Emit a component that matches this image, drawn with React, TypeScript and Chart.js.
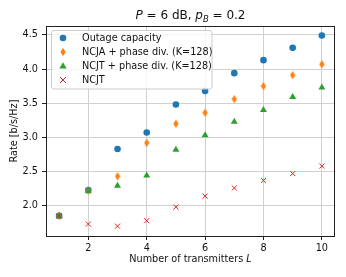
import React, { useEffect, useRef } from "react";
import { Chart, registerables } from "chart.js";

Chart.register(...registerables);

const transmitters = [1, 2, 3, 4, 5, 6, 7, 8, 9, 10];
const outageCapacity = [1.85, 2.23, 2.83, 3.07, 3.48, 3.68, 3.94, 4.13, 4.31, 4.49];
const ncjaPhase = [1.85, 2.22, 2.43, 2.92, 3.2, 3.36, 3.56, 3.75, 3.91, 4.07];
const ncjtPhase = [1.85, 2.21, 2.29, 2.44, 2.82, 3.03, 3.23, 3.4, 3.59, 3.73];
const ncjt = [1.85, 1.73, 1.7, 1.78, 1.98, 2.14, 2.26, 2.37, 2.47, 2.58];

const seriesLabels = [
  "Outage capacity",
  "NCJA + phase div. (K=128)",
  "NCJT + phase div. (K=128)",
  "NCJT",
];
const xTicks = [2, 4, 6, 8, 10];
const yTicks = [2.0, 2.5, 3.0, 3.5, 4.0, 4.5];

const BLUE = "#1f77b4";
const ORANGE = "#ff7f0e";
const GREEN = "#2ca02c";
const RED = "#d62728";
const FONT = "DejaVu Sans";

function makeThinDiamond(color: string): HTMLCanvasElement {
  const c = document.createElement("canvas");
  c.width = 6;
  c.height = 9;
  const ctx = c.getContext("2d")!;
  ctx.fillStyle = color;
  ctx.beginPath();
  ctx.moveTo(3, 0.3);
  ctx.lineTo(5.6, 4.5);
  ctx.lineTo(3, 8.7);
  ctx.lineTo(0.4, 4.5);
  ctx.closePath();
  ctx.fill();
  return c;
}

type Seg = { t: string; italic?: boolean; sub?: boolean };

function drawMixed(ctx: CanvasRenderingContext2D, segs: Seg[], cx: number, cy: number, size: number) {
  const fontFor = (s: Seg) =>
    `${s.italic ? "italic " : ""}${s.sub ? size * 0.7 : size}px "${FONT}"`;
  let total = 0;
  const widths = segs.map((s) => {
    ctx.font = fontFor(s);
    const w = ctx.measureText(s.t).width;
    total += w;
    return w;
  });
  let x = cx - total / 2;
  ctx.textBaseline = "alphabetic";
  ctx.textAlign = "left";
  const base = cy + size * 0.36;
  segs.forEach((s, i) => {
    ctx.font = fontFor(s);
    ctx.fillText(s.t, x, s.sub ? base + size * 0.2 : base);
    x += widths[i];
  });
}

const decorPlugin = {
  id: "decor",
  afterDatasetsDraw(chart: any) {
    const ctx: CanvasRenderingContext2D = chart.ctx;
    const a = chart.chartArea;
    ctx.save();
    // frame
    ctx.strokeStyle = "#222";
    ctx.lineWidth = 1;
    ctx.strokeRect(Math.round(a.left) + 0.5, Math.round(a.top) + 0.5, Math.round(a.right - a.left) - 1, Math.round(a.bottom - a.top));
    ctx.fillStyle = "#111";
    // title
    drawMixed(
      ctx,
      [
        { t: "P", italic: true },
        { t: " = 6 dB, " },
        { t: "p", italic: true },
        { t: "B", italic: true, sub: true },
        { t: " = 0.2" },
      ],
      (a.left + a.right) / 2,
      15,
      12
    );
    // x title
    drawMixed(
      ctx,
      [{ t: "Number of transmitters " }, { t: "L", italic: true }],
      (a.left + a.right) / 2,
      259,
      9.7
    );
    // y title
    ctx.save();
    ctx.translate(14, (a.top + a.bottom) / 2);
    ctx.rotate(-Math.PI / 2);
    ctx.font = `9.7px "${FONT}"`;
    ctx.textAlign = "center";
    ctx.textBaseline = "middle";
    ctx.fillText("Rate [b/s/Hz]", 0, 0);
    ctx.restore();

    // legend
    const lx = 51.5, ly = 30.5, lw = 160.5, lh = 58.5, r = 2.5;
    ctx.beginPath();
    ctx.moveTo(lx + r, ly);
    ctx.lineTo(lx + lw - r, ly);
    ctx.quadraticCurveTo(lx + lw, ly, lx + lw, ly + r);
    ctx.lineTo(lx + lw, ly + lh - r);
    ctx.quadraticCurveTo(lx + lw, ly + lh, lx + lw - r, ly + lh);
    ctx.lineTo(lx + r, ly + lh);
    ctx.quadraticCurveTo(lx, ly + lh, lx, ly + lh - r);
    ctx.lineTo(lx, ly + r);
    ctx.quadraticCurveTo(lx, ly, lx + r, ly);
    ctx.closePath();
    ctx.fillStyle = "rgba(255,255,255,0.8)";
    ctx.fill();
    ctx.strokeStyle = "#cccccc";
    ctx.stroke();

    const rows = [38, 52, 66, 80];
    const mx = 63;
    // circle
    ctx.fillStyle = BLUE;
    ctx.beginPath();
    ctx.arc(mx, rows[0], 3.3, 0, Math.PI * 2);
    ctx.fill();
    // thin diamond
    ctx.fillStyle = ORANGE;
    ctx.beginPath();
    ctx.moveTo(mx, rows[1] - 4.2);
    ctx.lineTo(mx + 2.6, rows[1]);
    ctx.lineTo(mx, rows[1] + 4.2);
    ctx.lineTo(mx - 2.6, rows[1]);
    ctx.closePath();
    ctx.fill();
    // triangle
    ctx.fillStyle = GREEN;
    ctx.beginPath();
    ctx.moveTo(mx, rows[2] - 3.8);
    ctx.lineTo(mx + 3.6, rows[2] + 2.6);
    ctx.lineTo(mx - 3.6, rows[2] + 2.6);
    ctx.closePath();
    ctx.fill();
    // x
    ctx.strokeStyle = RED;
    ctx.lineWidth = 1;
    ctx.beginPath();
    ctx.moveTo(mx - 3, rows[3] - 3);
    ctx.lineTo(mx + 3, rows[3] + 3);
    ctx.moveTo(mx + 3, rows[3] - 3);
    ctx.lineTo(mx - 3, rows[3] + 3);
    ctx.stroke();

    ctx.fillStyle = "#111";
    ctx.font = `9.7px "${FONT}"`;
    ctx.textAlign = "left";
    ctx.textBaseline = "middle";
    seriesLabels.forEach((t, i) => ctx.fillText(t, 82, rows[i] + 0.5));
    ctx.restore();
  },
};

export default function App() {
  const ref = useRef<HTMLCanvasElement | null>(null);
  useEffect(() => {
    document.body.style.margin = "0";
    const canvas = ref.current!;
    const diamond = makeThinDiamond(ORANGE);
    const toPts = (ys: number[]) => transmitters.map((x, i) => ({ x, y: ys[i] }));
    const chart = new Chart(canvas, {
      type: "scatter",
      data: {
        datasets: [
          {
            label: seriesLabels[0],
            data: toPts(outageCapacity),
            pointStyle: "circle",
            pointRadius: 3.3,
            backgroundColor: BLUE,
            borderColor: BLUE,
            borderWidth: 0,
            order: 4,
          },
          {
            label: seriesLabels[1],
            data: toPts(ncjaPhase),
            pointStyle: diamond as any,
            pointRadius: 4,
            backgroundColor: ORANGE,
            borderColor: ORANGE,
            order: 3,
          },
          {
            label: seriesLabels[2],
            data: toPts(ncjtPhase),
            pointStyle: "triangle",
            pointRadius: 4,
            backgroundColor: GREEN,
            borderColor: GREEN,
            borderWidth: 0,
            order: 2,
          },
          {
            label: seriesLabels[3],
            data: toPts(ncjt),
            pointStyle: "crossRot",
            pointRadius: 3.6,
            backgroundColor: RED,
            borderColor: RED,
            borderWidth: 1,
            order: 1,
          },
        ],
      },
      options: {
        animation: false,
        responsive: false,
        devicePixelRatio: 1,
        layout: { padding: { left: 0, top: 26, right: 11, bottom: 0 } },
        plugins: {
          legend: { display: false },
          title: { display: false },
          tooltip: { enabled: false },
        },
        scales: {
          x: {
            type: "linear",
            min: 0.55,
            max: 10.45,
            afterBuildTicks: (s: any) => {
              s.ticks = xTicks.map((v) => ({ value: v }));
            },
            afterFit: (s: any) => {
              s.height = 41;
            },
            grid: {
              color: "#d0d0d0",
              lineWidth: 1,
              tickColor: "#222",
              tickLength: 4,
              drawTicks: true,
            },
            border: { display: false },
            ticks: {
              color: "#111",
              font: { family: FONT, size: 9.7 },
              padding: 3,
              maxRotation: 0,
              callback: (v: any) => String(v),
            },
          },
          y: {
            type: "linear",
            min: 1.556,
            max: 4.63,
            afterBuildTicks: (s: any) => {
              s.ticks = yTicks.map((v) => ({ value: v }));
            },
            afterFit: (s: any) => {
              s.width = 46;
            },
            grid: {
              color: "#d0d0d0",
              lineWidth: 1,
              tickColor: "#222",
              tickLength: 4,
              drawTicks: true,
            },
            border: { display: false },
            ticks: {
              color: "#111",
              font: { family: FONT, size: 9.7 },
              padding: 4,
              callback: (v: any) => Number(v).toFixed(1),
            },
          },
        },
      },
      plugins: [decorPlugin],
    });
    return () => chart.destroy();
  }, []);
  return (
    <div style={{ position: "absolute", left: 0, top: 0, width: 346, height: 277 }}>
      <canvas ref={ref} width={346} height={277} style={{ display: "block", width: 346, height: 277 }} />
    </div>
  );
}
